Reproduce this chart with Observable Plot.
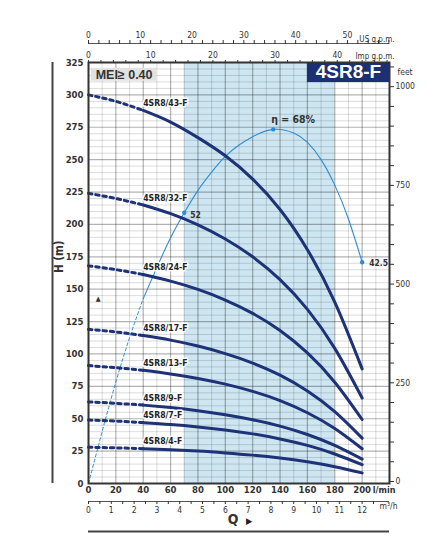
<!DOCTYPE html>
<html><head><meta charset="utf-8">
<script src="https://cdn.jsdelivr.net/npm/d3@7"></script>
<script src="https://cdn.jsdelivr.net/npm/@observablehq/plot@0.6"></script>
<style>body{margin:0;background:#fff} #chart svg{display:block}</style>
</head><body><div id="chart"></div>
<script>
// ---- data ----
const flow = [0, 20, 40, 60, 80, 100, 120, 140, 160, 180, 200]; // l/min
const models = ["4SR8/43-F","4SR8/32-F","4SR8/24-F","4SR8/17-F","4SR8/13-F","4SR8/9-F","4SR8/7-F","4SR8/4-F"];
const head43 = [300, 295, 288, 279, 267, 253, 235, 211.5, 180.5, 140, 88.5];
const head32 = [224, 220, 215, 208.3, 199.7, 188.8, 175, 157.4, 134.4, 104.3, 66];
const head24 = [168, 165.1, 161.3, 156.2, 149.8, 141.6, 131.3, 118.1, 100.8, 78.2, 49.4];
const head17 = [119, 117, 114.2, 110.7, 106.1, 100.3, 93, 83.6, 71.4, 55.4, 35];
const head13 = [91, 89.4, 87.4, 84.6, 81.1, 76.7, 71.1, 64, 54.6, 42.4, 26.8];
const head9  = [63, 61.9, 60.5, 58.6, 56.2, 53.1, 49.2, 44.3, 37.8, 29.4, 18.8];
const head7  = [49, 48.2, 47, 45.6, 43.7, 41.3, 38.3, 34.4, 29.4, 22.8, 14.5];
const head4  = [28, 27.5, 26.9, 26, 25, 23.6, 21.9, 19.7, 16.8, 13, 8.2];
const heads = [head43, head32, head24, head17, head13, head9, head7, head4];

const etaFlow  = [0, 10, 20, 30, 40, 50, 60, 70, 80, 90, 100, 110, 120, 135, 150, 160, 170, 180, 190, 200];
const etaValue = [0, 10, 19.5, 28, 35.5, 41.5, 47.2, 52, 56.3, 59.8, 62.8, 65, 66.6, 68, 67.3, 65.5, 62.2, 57.3, 50.8, 42.5];
const etaMarkFlow  = [70, 135, 200];
const etaMarkValue = [52, 68, 42.5];
const etaMarkText  = ["52", "η = 68%", "42.5"];
const etaFactor = 4.02;          // metres of H per % on the hidden efficiency scale
const bestRange = [70, 180];     // shaded recommended range, l/min
const dottedLimit = 40;          // curves are dotted below this flow

const yTicks = d3.range(0, 326, 25);
const xTicks = d3.range(0, 201, 20);
const usGpm = d3.range(0, 59, 2);
const impGpm = d3.range(0, 49, 2);
const m3h = d3.range(0, 12.6, 0.5);
const feet = d3.range(0, 1051, 50);
const US = 3.78541, IMP = 4.54609, M3H = 1000 / 60, FT = 3.28084;

// ---- derived tables ----
const curves = [];
models.forEach((m, i) => flow.forEach((q, j) => curves.push({model: m, q, h: heads[i][j]})));
const labels = models.map((m, i) => ({model: m, q: dottedLimit, h: heads[i][flow.indexOf(dottedLimit)]}));
const eta = etaFlow.map((q, i) => ({q, h: etaValue[i] * etaFactor}));
const etaMarks = etaMarkFlow.map((q, i) => ({q, h: etaMarkValue[i] * etaFactor, t: etaMarkText[i]}));

const COND = "'DejaVu Sans Condensed','Liberation Sans Narrow',sans-serif";
const SANS = "'Liberation Sans',Arial,sans-serif";
const NAVY = "#1d3277", BLUE = "#2f8cd2";

const chart = Plot.plot({
  width: 439, height: 546,
  marginLeft: 88, marginRight: 50, marginTop: 62, marginBottom: 63,
  x: {domain: [0, 220], axis: null},
  y: {domain: [0, 325], axis: null},
  style: {fontFamily: COND, fontSize: "9px", color: "#333", background: "#fff", overflow: "visible"},
  marks: [
    Plot.rect([bestRange], {x1: d => d[0], x2: d => d[1], y1: 0, y2: 325, fill: "#cde6f1"}),
    Plot.ruleX(d3.range(10, 220, 20), {stroke: "#000", strokeOpacity: 0.14}),
    Plot.ruleX(d3.range(20, 220, 20), {stroke: "#000", strokeOpacity: 0.3, strokeWidth: 1.2}),
    Plot.ruleY(d3.range(5, 325, 5).filter(v => v % 25), {stroke: "#000", strokeOpacity: 0.14}),
    Plot.ruleY(d3.range(25, 325, 25), {stroke: "#000", strokeOpacity: 0.3, strokeWidth: 1.2}),
    // MEI box and title box
    Plot.rect([0], {x1: 2, x2: 50, y1: 310.5, y2: 320.5, fill: "#e2e2e2"}),
    Plot.text(["MEI≥ 0.40"], {x: 26, y: 315.5, fontFamily: SANS, fontWeight: "bold", fontSize: 12.5, fill: "#333"}),
    Plot.rect([0], {x1: 160, x2: 220, y1: 309.5, y2: 325, fill: "#1b2f72"}),
    Plot.text(["4SR8-F"], {x: 190, y: 317.5, fontFamily: SANS, fontWeight: "bold", fontSize: 19, fill: "#fff"}),
    // efficiency curve
    Plot.line(eta.filter(d => d.q <= dottedLimit), {x: "q", y: "h", stroke: BLUE, strokeWidth: 1, strokeDasharray: "3,2.5", curve: "natural"}),
    Plot.line(eta.filter(d => d.q >= dottedLimit), {x: "q", y: "h", stroke: BLUE, strokeWidth: 1.1, curve: "natural"}),
    Plot.dot(etaMarks, {x: "q", y: "h", r: 2.2, fill: BLUE}),
    Plot.text(etaMarks.slice(0, 1), {x: "q", y: "h", text: "t", textAnchor: "start", dx: 6, dy: 3, fontWeight: "bold", fontSize: 8.5, fill: "#333"}),
    Plot.text(etaMarks.slice(1, 2), {x: "q", y: "h", text: "t", textAnchor: "start", dx: -2, dy: -10, fontWeight: "bold", fontSize: 10.5, fill: "#333"}),
    Plot.text(etaMarks.slice(2, 3), {x: "q", y: "h", text: "t", textAnchor: "start", dx: 7, dy: 1, fontWeight: "bold", fontSize: 8.5, fill: "#333"}),
    // pump curves
    Plot.line(curves.filter(d => d.q <= dottedLimit), {x: "q", y: "h", z: "model", stroke: NAVY, strokeWidth: 3, strokeDasharray: "3.5,3.8", curve: "natural"}),
    Plot.line(curves.filter(d => d.q >= dottedLimit), {x: "q", y: "h", z: "model", stroke: NAVY, strokeWidth: 3, curve: "natural"}),
    Plot.text(labels, {x: "q", y: "h", text: "model", textAnchor: "start", dy: -7, fontWeight: "bold", fontSize: 8.6, fill: "#222", stroke: "#fff", strokeWidth: 3, paintOrder: "stroke"}),
    Plot.text(["▲"], {x: 7, y: 143, fontSize: 7, fill: "#333"}),
    Plot.frame({stroke: "#333", strokeWidth: 2}),
    // left H axis
    Plot.axisY({anchor: "left", ticks: yTicks, tickSize: 0, tickPadding: 5, fontWeight: "bold", fontSize: 9.5, fill: "#333", label: null}),
    Plot.ruleX([0], {dx: -36, stroke: "#444", strokeWidth: 2}),
    Plot.text(["H (m)"], {frameAnchor: "left", dx: -29, rotate: -90, fontWeight: "bold", fontSize: 11.5, fill: "#333"}),
    // right feet axis
    Plot.axisY({anchor: "right", ticks: feet.map(f => f / FT), tickFormat: v => { const f = Math.round(v * FT); return f % 250 === 0 ? String(f) : ""; }, tickSize: 4, tickPadding: 2, dy: -2, fontSize: 8.5, label: null}),
    Plot.text(["feet"], {frameAnchor: "top-right", dx: 8, dy: 6, textAnchor: "start", fontSize: 8.5}),
    // top US gpm axis
    Plot.ruleY([325], {dy: -19, stroke: "#555"}),
    Plot.axisX({anchor: "top", ticks: usGpm.map(g => g * US), tickFormat: v => { const g = Math.round(v / US); return g % 10 === 0 ? String(g) : ""; }, tickSize: 4, tickPadding: 2, dy: -19, fontSize: 8.5, label: null}),
    Plot.text(["US g.p.m."], {frameAnchor: "top-right", dx: 5, dy: -26, textAnchor: "end", fontSize: 8}),
    // top Imp gpm axis
    Plot.axisX({anchor: "top", ticks: impGpm.map(g => g * IMP), tickFormat: v => { const g = Math.round(v / IMP); return g % 10 === 0 ? String(g) : ""; }, tickSize: 3, tickPadding: 2, fontSize: 8.5, label: null}),
    Plot.text(["Imp g.p.m."], {frameAnchor: "top-right", dx: 5, dy: -9, textAnchor: "end", fontSize: 8}),
    // bottom l/min axis
    Plot.axisX({anchor: "bottom", ticks: xTicks, tickSize: 0, tickPadding: 3, fontWeight: "bold", fontSize: 9.5, fill: "#333", label: null}),
    Plot.text(["l/min"], {frameAnchor: "bottom-right", dx: 6, dy: 9, textAnchor: "end", fontWeight: "bold", fontSize: 9, fill: "#333"}),
    // m3/h axis
    Plot.ruleY([0], {dy: 18, stroke: "#555"}),
    Plot.axisX({anchor: "bottom", ticks: m3h.map(m => m * M3H), tickFormat: v => { const m = Math.round(v / M3H * 2) / 2; return m % 1 === 0 ? String(m) : ""; }, tickSize: 3, tickPadding: 2, dy: 18, fontSize: 8.5, label: null}),
    Plot.text(["m³/h"], {frameAnchor: "bottom-right", dx: 8, dy: 25, textAnchor: "end", fontSize: 8.5}),
    // Q label and base line
    Plot.text(["Q"], {frameAnchor: "bottom", dx: -6, dy: 40, fontWeight: "bold", fontSize: 14, fill: "#333"}),
    Plot.text(["▶"], {frameAnchor: "bottom", dx: 10, dy: 40, fontSize: 9, fill: "#222"}),
    Plot.ruleY([0], {dy: 48, stroke: "#444", strokeWidth: 2})
  ]
});
document.getElementById("chart").append(chart);
</script>
</body></html>
